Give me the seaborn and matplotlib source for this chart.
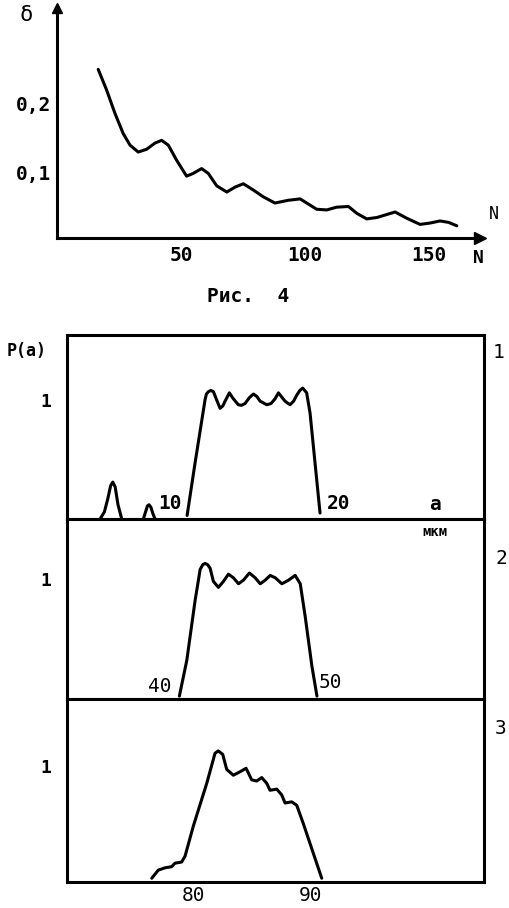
import matplotlib
matplotlib.use("Agg")
import matplotlib.pyplot as plt
import seaborn as sns

# ---------------- data ----------------
# Top chart: delta vs N
top_N = [16.2, 19.6, 23.0, 26.3, 29.1, 32.4, 35.8, 39.2, 41.9, 44.6, 48.0, 52.0,
         54.7, 58.1, 60.8, 64.2, 68.3, 71.6, 75.0, 79.0, 83.1, 87.8, 93.2, 98.0,
         100.7, 104.7, 108.8, 112.8, 117.6, 121.0, 125.0, 129.1, 136.5, 141.2,
         146.6, 150.7, 154.7, 158.1, 161.5]
top_delta = [0.249, 0.219, 0.185, 0.156, 0.139, 0.129, 0.133, 0.142, 0.146, 0.139,
             0.117, 0.094, 0.098, 0.105, 0.098, 0.080, 0.071, 0.078, 0.083, 0.074,
             0.064, 0.055, 0.059, 0.061, 0.055, 0.046, 0.045, 0.049, 0.050, 0.040,
             0.032, 0.034, 0.042, 0.033, 0.024, 0.026, 0.029, 0.027, 0.022]
top_xticks = [50, 100, 150]
top_xticklabels = ["50", "100", "150"]
top_yticks = [0.1, 0.2, 0.28]
top_yticklabels = ["0,1", "0,2", ""]

# Panel 1: P(a)
p1_bump1_a = [1.62, 2.0, 2.3, 2.55, 2.74, 2.95, 3.2, 3.53]
p1_bump1_p = [0.0, 0.06, 0.17, 0.28, 0.31, 0.27, 0.12, 0.0]
p1_bump2_a = [5.44, 5.6, 5.8, 5.94, 6.1, 6.3, 6.47]
p1_bump2_p = [0.0, 0.05, 0.11, 0.12, 0.10, 0.04, 0.0]
p1_a = [9.3, 10.0, 10.88, 11.0, 11.18, 11.4, 11.62, 11.91, 12.21, 12.45, 12.65,
        13.03, 13.38, 13.82, 14.1, 14.41, 14.8, 15.15, 15.45, 15.74, 16.33, 16.7,
        17.06, 17.36, 17.94, 18.38, 18.7, 18.97, 19.25, 19.5, 19.85, 20.15,
        20.59, 21.03]
p1_p = [0.03, 0.47, 1.0, 1.05, 1.07, 1.08, 1.07, 1.0, 0.93, 0.95, 0.99, 1.06, 1.01,
        0.96, 0.955, 0.97, 1.02, 1.05, 1.03, 0.99, 0.96, 0.97, 1.01, 1.06, 0.99,
        0.96, 0.99, 1.04, 1.08, 1.10, 1.06, 0.89, 0.47, 0.05]
p1_xticks = [10, 20]
p1_xticklabels = ["10", "20"]

# Panel 2
p2_a = [39.25, 39.87, 40.56, 40.98, 41.2, 41.39, 41.6, 41.81, 42.08, 42.5, 42.92,
        43.33, 43.75, 44.17, 44.58, 45.08, 45.56, 45.98, 46.39, 46.81, 47.23,
        47.78, 48.33, 48.89, 49.31, 49.73, 50.28, 50.7]
p2_p = [0.02, 0.32, 0.82, 1.08, 1.12, 1.13, 1.12, 1.09, 0.98, 0.93, 0.98, 1.04,
        1.01, 0.96, 0.99, 1.05, 1.01, 0.96, 0.99, 1.03, 1.01, 0.96, 0.99, 1.03,
        0.96, 0.68, 0.27, 0.02]
p2_xticks = [40, 50]
p2_xticklabels = ["40", "50"]

# Panel 3
p3_a = [76.44, 77.0, 77.58, 78.15, 78.43, 79.0, 79.29, 80.0, 81.15, 81.86, 82.14,
        82.52, 82.86, 83.43, 84.0, 84.52, 85.0, 85.43, 85.86, 86.29, 86.57, 87.15,
        87.57, 87.86, 88.43, 88.86, 89.43, 91.0]
p3_p = [0.03, 0.10, 0.12, 0.13, 0.16, 0.17, 0.22, 0.48, 0.85, 1.11, 1.13, 1.10, 0.97,
        0.92, 0.95, 0.98, 0.88, 0.87, 0.90, 0.85, 0.79, 0.80, 0.75, 0.68, 0.69, 0.66,
        0.50, 0.03]
p3_xticks = [80, 90]
p3_xticklabels = ["80", "90"]

panel_yticks = [1]
panel_yticklabels = ["1"]
panel_numbers = ["1", "2", "3"]

# ---------------- figure ----------------
sns.set_style("white")
plt.rcParams["font.family"] = ["DejaVu Sans Mono", "DejaVu Sans"]
K = "black"
plt.rcParams["text.color"] = K
plt.rcParams["xtick.color"] = K
plt.rcParams["ytick.color"] = K
plt.rcParams["axes.labelcolor"] = K
plt.rcParams["lines.solid_capstyle"] = "round"
plt.rcParams["lines.solid_joinstyle"] = "round"

W, H = 510, 908
fig = plt.figure(figsize=(W / 100, H / 100), dpi=100)
fig.patch.set_facecolor("white")


def px(x, y):
    return x / W, 1 - y / H


def rect(l, t, r, b):
    return [l / W, 1 - b / H, (r - l) / W, (b - t) / H]


LW = 2.2

# ---------- top chart ----------
ax = fig.add_axes(rect(57, 8, 480, 237.5))
sns.lineplot(x=top_N, y=top_delta, ax=ax, color=K, lw=LW, sort=False)
ax.set_xlim(-0.5, 170.9)
ax.set_ylim(0.005, 0.338)
for s in ["top", "right"]:
    ax.spines[s].set_visible(False)
for s in ["left", "bottom"]:
    ax.spines[s].set_linewidth(LW)
    ax.spines[s].set_color(K)
ax.set_xticks(top_xticks, top_xticklabels)
ax.set_yticks(top_yticks, top_yticklabels)
ax.tick_params(axis="both", direction="in", length=5, width=2, colors=K,
               labelsize=14)
ax.tick_params(axis="x", pad=6)
ax.tick_params(axis="y", pad=4)
for lab in ax.get_xticklabels() + ax.get_yticklabels():
    lab.set_fontweight("bold")
ax.set_xlabel("")
ax.set_ylabel("")
ax.plot(1, 0, ">", color=K, ms=8, transform=ax.transAxes, clip_on=False)
ax.plot(0, 1, "^", color=K, ms=7, transform=ax.transAxes, clip_on=False)
fig.text(*px(26, 15), "δ", ha="center", va="center", fontsize=16)
fig.text(*px(494, 214), "N", ha="center", va="center", fontsize=12)
fig.text(*px(478, 258), "N", ha="center", va="center", fontsize=13,
         fontweight="bold")
fig.text(*px(248, 297), "Рис.  4", ha="center", va="center", fontsize=14,
         fontweight="bold")

# ---------- bottom panels ----------
panels = [
    dict(r=rect(67, 335, 484, 519), xlim=(-1.3, 35.5), ylim=(0, 1.546)),
    dict(r=rect(67, 519, 484, 698.5), xlim=(29.9, 64.6), ylim=(0, 1.502)),
    dict(r=rect(67, 698.5, 484, 881.7), xlim=(69.18, 104.9), ylim=(0, 1.583)),
]
axes = []
for p in panels:
    a = fig.add_axes(p["r"])
    a.set_xlim(*p["xlim"])
    a.set_ylim(*p["ylim"])
    for s in a.spines.values():
        s.set_linewidth(LW)
        s.set_color(K)
    a.set_yticks(panel_yticks, panel_yticklabels)
    a.tick_params(axis="both", direction="in", length=5, width=2, colors=K,
                  labelsize=13)
    a.tick_params(axis="y", pad=11)
    for lab in a.get_yticklabels():
        lab.set_fontweight("bold")
    axes.append(a)

a1, a2, a3 = axes
sns.lineplot(x=p1_bump1_a, y=p1_bump1_p, ax=a1, color=K, lw=LW)
sns.lineplot(x=p1_bump2_a, y=p1_bump2_p, ax=a1, color=K, lw=LW)
sns.lineplot(x=p1_a, y=p1_p, ax=a1, color=K, lw=LW)
sns.lineplot(x=p2_a, y=p2_p, ax=a2, color=K, lw=LW)
sns.lineplot(x=p3_a, y=p3_p, ax=a3, color=K, lw=LW)

a1.set_xticks(p1_xticks, ["", ""])
a2.set_xticks(p2_xticks, ["", ""])
a3.set_xticks(p3_xticks, p3_xticklabels)
a3.tick_params(axis="x", pad=3, labelsize=14)
for a in axes:
    a.set_xlabel("")
    a.set_ylabel("")

# inner tick labels
for a, ticks, labels, offs, fw in [
    (a1, p1_xticks, p1_xticklabels, [(-25, 15), (30, 15)], "bold"),
    (a2, p2_xticks, p2_xticklabels, [(-29, 12), (22, 16)], "normal"),
]:
    for t, lab, (dx, dy) in zip(ticks, labels, offs):
        a.annotate(lab, xy=(t, 0), xytext=(dx, dy), textcoords="offset pixels",
                   ha="center", va="center", fontsize=14, fontweight=fw)

fig.text(*px(27, 351), "P(a)", ha="center", va="center", fontsize=12,
         fontweight="bold")
fig.text(*px(435, 504), "а", ha="center", va="center", fontsize=14,
         fontweight="bold")
fig.text(*px(435, 532), "мкм", ha="center", va="center", fontsize=10,
         fontweight="bold")
for lab, (x, y) in zip(panel_numbers, [(499, 352), (501, 559), (501, 729)]):
    fig.text(*px(x, y), lab, ha="center", va="center", fontsize=14)

fig.savefig("out.png", dpi=100, facecolor="white")
